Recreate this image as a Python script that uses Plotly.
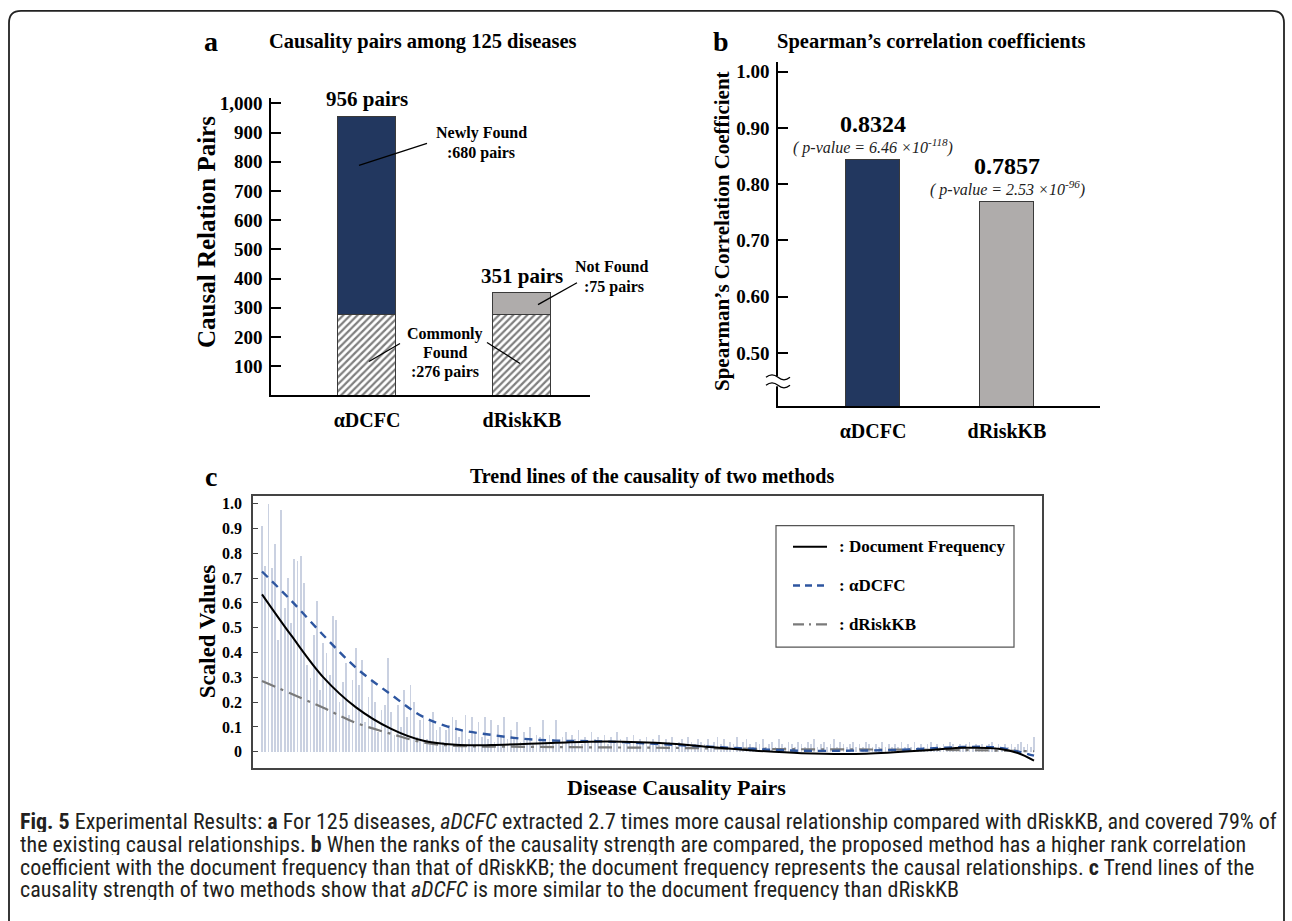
import plotly.graph_objects as go

W, H = 1292, 921
SERIF = "Liberation Serif, Times New Roman, serif"
SANS = "Liberation Sans Narrow, Roboto Condensed, DejaVu Sans Condensed, Roboto, sans-serif"

# ---------------- data ----------------
# panel a
a_categories = ["αDCFC", "dRiskKB"]
a_common = [276, 276]          # commonly found pairs
a_extra = [680, 75]            # newly found / not found
a_totals = [956, 351]
a_yticks = [100, 200, 300, 400, 500, 600, 700, 800, 900, 1000]
a_yticktext = ["100", "200", "300", "400", "500", "600", "700", "800", "900", "1,000"]

# panel b
b_categories = ["αDCFC", "dRiskKB"]
b_values = [0.843, 0.769]      # bar heights as drawn
b_labels = ["0.8324", "0.7857"]
b_pvalues = ["6.46 ×10<sup>-118</sup>", "2.53 ×10<sup>-96</sup>"]
b_yticks = [0.5, 0.6, 0.7, 0.8, 0.9, 1.0]
b_yticktext = ["0.50", "0.60", "0.70", "0.80", "0.90", "1.00"]

# panel c : scaled values of the disease causality pairs
pair_values = [
    0.91, 0.75, 1.00, 0.74, 0.84, 0.45, 0.975, 0.58, 0.70, 0.52, 0.78, 0.77, 0.79,
    0.68, 0.35, 0.30, 0.47, 0.61, 0.25, 0.44, 0.40, 0.31, 0.55, 0.53, 0.20,
    0.28, 0.36, 0.15, 0.29, 0.42, 0.27, 0.37, 0.12, 0.22, 0.29, 0.20, 0.08, 0.17,
    0.19, 0.38, 0.16, 0.07, 0.19, 0.10, 0.25, 0.14, 0.27, 0.20, 0.06, 0.13,
    0.14, 0.05, 0.125, 0.16, 0.09, 0.10, 0.04, 0.09, 0.11, 0.14, 0.13, 0.06,
    0.09, 0.15, 0.05, 0.14, 0.08, 0.12, 0.06, 0.14, 0.05, 0.13, 0.04, 0.11, 0.07, 0.14, 0.05, 0.09, 0.06,
    0.12, 0.04, 0.08, 0.05, 0.10, 0.03, 0.07, 0.06, 0.13, 0.04, 0.07, 0.05, 0.13, 0.03, 0.06, 0.08,
    0.04, 0.07, 0.05, 0.09, 0.03, 0.06, 0.04, 0.08, 0.05, 0.06, 0.04,
    0.07, 0.03, 0.06, 0.04, 0.08, 0.05, 0.03, 0.06, 0.04, 0.07, 0.03, 0.05, 0.04, 0.06, 0.03, 0.05,
    0.04, 0.07, 0.03, 0.05, 0.04, 0.06, 0.03, 0.04, 0.05, 0.03, 0.06, 0.04, 0.03, 0.05, 0.04,
    0.03, 0.05, 0.02, 0.04, 0.06, 0.03, 0.05, 0.02, 0.04, 0.03, 0.06, 0.02, 0.04, 0.05, 0.03, 0.02,
    0.04, 0.03, 0.05, 0.02, 0.03, 0.04, 0.02, 0.05, 0.03, 0.02, 0.04, 0.03, 0.02, 0.04, 0.03,
    0.02, 0.04, 0.03, 0.05, 0.02, 0.03, 0.04, 0.02, 0.03, 0.05, 0.02, 0.04, 0.03, 0.02, 0.03, 0.04,
    0.02, 0.03, 0.02, 0.04, 0.03, 0.02, 0.03, 0.02, 0.04, 0.02, 0.03, 0.02, 0.03, 0.02, 0.04,
    0.02, 0.03, 0.02, 0.04, 0.02, 0.03, 0.02, 0.03, 0.04, 0.02, 0.03, 0.02, 0.03, 0.02, 0.04, 0.03,
    0.02, 0.03, 0.02, 0.03, 0.04, 0.02, 0.03, 0.02, 0.03, 0.02, 0.03, 0.04, 0.02, 0.03, 0.02, 0.03,
    0.02, 0.03, 0.02, 0.03, 0.04, 0.02, 0.03, 0.02, 0.06,
]
doc_x = [0, 9, 19, 29, 40, 50, 60, 71, 91, 107, 127, 136, 151, 167, 187, 208, 217, 228, 234, 239]
doc_freq = [0.635, 0.47, 0.30, 0.18, 0.092, 0.044, 0.028, 0.027, 0.036, 0.041, 0.032, 0.022,
            0.006, -0.006, -0.008, 0.008, 0.016, 0.012, -0.005, -0.036]
adcfc_x = [0, 9, 19, 29, 40, 50, 60, 71, 81, 91, 107, 133, 151, 167, 198, 217, 228, 239]
adcfc = [0.727, 0.61, 0.47, 0.34, 0.23, 0.14, 0.092, 0.068, 0.052, 0.045, 0.041, 0.024, 0.012,
         0.004, 0.008, 0.019, 0.016, -0.016]
drisk_x = [0, 19, 29, 40, 50, 60, 81, 122, 167, 208, 239]
drisk = [0.285, 0.177, 0.117, 0.072, 0.037, 0.024, 0.020, 0.016, 0.010, 0.008, 0.002]
c_yticks = [0, 0.1, 0.2, 0.3, 0.4, 0.5, 0.6, 0.7, 0.8, 0.9, 1.0]
c_yticktext = ["0", "0.1", "0.2", "0.3", "0.4", "0.5", "0.6", "0.7", "0.8", "0.9", "1.0"]
legend_names = [": Document Frequency", ": αDCFC", ": dRiskKB"]

# ---------------- helpers ----------------
def fx(x):
    return x / W


def fy(y):
    return 1 - y / H


def ann(text, x, y, size, weight="bold", xanchor="center", style="normal", angle=0,
        family=SERIF, color="black"):
    return dict(text=text, x=fx(x), y=fy(y), xref="paper", yref="paper", showarrow=False,
                xanchor=xanchor, yanchor="middle", textangle=angle,
                font=dict(family=family, size=size, weight=weight, style=style, color=color))


def seg(x0, y0, x1, y1, color="black", width=1.3, dash="solid"):
    return dict(type="line", xref="paper", yref="paper", x0=fx(x0), y0=fy(y0), x1=fx(x1), y1=fy(y1),
                line=dict(color=color, width=width, dash=dash))


NAVY = "#22375f"
GREY = "#afacab"
EDGE = "#3a3a3a"

fig = go.Figure()

# ---------------- panel a ----------------
fig.add_trace(go.Bar(x=[0, 1], y=a_common, xaxis="x", yaxis="y", width=0.374,
                     marker=dict(color="white", line=dict(color=EDGE, width=1),
                                 pattern=dict(shape="/", fgcolor="black", bgcolor="white",
                                              size=5, solidity=0.45))))
fig.add_trace(go.Bar(x=[0, 1], y=a_extra, xaxis="x", yaxis="y", width=0.374,
                     marker=dict(color=[NAVY, GREY], line=dict(color=EDGE, width=1))))

# ---------------- panel b ----------------
fig.add_trace(go.Bar(x=[0, 1], y=b_values, xaxis="x2", yaxis="y2", width=0.41,
                     marker=dict(color=[NAVY, GREY], line=dict(color=EDGE, width=1))))

# ---------------- panel c ----------------
n_pairs = len(pair_values)
fig.add_trace(go.Bar(x=list(range(n_pairs)), y=pair_values, xaxis="x3", yaxis="y3", width=0.55,
                     marker=dict(color="rgba(150,163,195,0.5)", line=dict(width=0))))
fig.add_trace(go.Scatter(x=drisk_x, y=drisk, xaxis="x3", yaxis="y3", mode="lines",
                         line=dict(color="#7a7a7a", width=2.2, dash="14px,6px,3px,6px", shape="spline")))
fig.add_trace(go.Scatter(x=adcfc_x, y=adcfc, xaxis="x3", yaxis="y3", mode="lines",
                         line=dict(color="#2e56a0", width=2.4, dash="8px,6px", shape="spline")))
fig.add_trace(go.Scatter(x=doc_x, y=doc_freq, xaxis="x3", yaxis="y3", mode="lines",
                         line=dict(color="black", width=2, shape="spline")))

# axis ranges from pixel geometry
a_unit = 522 - 367
b_unit = 1007 - 873
c_last = max(n_pairs - 1, doc_x[-1])
c_unit = (1034 - 262) / c_last

axis_common = dict(showgrid=False, zeroline=False, showline=True, linecolor="black", linewidth=1.5)

fig.update_layout(
    width=W, height=H, autosize=False, showlegend=False, barmode="stack", bargap=0,
    margin=dict(l=0, r=0, t=0, b=0), paper_bgcolor="white", plot_bgcolor="white",
    xaxis=dict(axis_common, domain=[fx(271), fx(590)], anchor="y",
               range=[-(367 - 271) / a_unit, (590 - 367) / a_unit],
               tickvals=[0, 1], ticktext=a_categories, ticks="", ticklabelstandoff=6,
               tickfont=dict(family=SERIF, size=20, weight="bold", color="black")),
    yaxis=dict(axis_common, domain=[fy(393), fy(94)], anchor="x", range=[0, 1020],
               tickvals=a_yticks, ticktext=a_yticktext, ticks="inside", ticklen=10, tickwidth=1.5,
               tickcolor="black", ticklabelstandoff=3,
               tickfont=dict(family=SERIF, size=19, weight="bold", color="black")),
    xaxis2=dict(axis_common, domain=[fx(778), fx(1100)], anchor="y2",
                range=[-(873 - 778) / b_unit, (1100 - 873) / b_unit],
                tickvals=[0, 1], ticktext=b_categories, ticks="", ticklabelstandoff=6,
                tickfont=dict(family=SERIF, size=20, weight="bold", color="black")),
    yaxis2=dict(axis_common, domain=[fy(404), fy(58)], anchor="x2",
                range=[1.0 - (404 - 68) / 565, 1.0 + (68 - 58) / 565],
                tickvals=b_yticks, ticktext=b_yticktext, ticks="inside", ticklen=10, tickwidth=1.5,
                tickcolor="black", ticklabelstandoff=3,
                tickfont=dict(family=SERIF, size=19, weight="bold", color="black")),
    xaxis3=dict(axis_common, domain=[fx(253), fx(1042)], anchor="y3", mirror=True,
                linecolor="#444", range=[-(262 - 253) / c_unit, c_last + (1042 - 1034) / c_unit],
                showticklabels=False, ticks=""),
    yaxis3=dict(axis_common, domain=[fy(767), fy(494)], anchor="x3", mirror=True, linecolor="#444",
                range=[-(767 - 751) / 249, 1 + (751 - 494 - 249) / 249],
                tickvals=c_yticks, ticktext=c_yticktext, ticks="inside", ticklen=5, tickwidth=1,
                tickcolor="#444", ticklabelstandoff=6,
                tickfont=dict(family=SERIF, size=16, weight="bold", color="black")),
)

annotations = []
shapes = []

# frame
shapes.append(dict(type="path", xref="paper", yref="paper",
                   path=(f"M {fx(9)},{fy(940)} L {fx(9)},{fy(19)} Q {fx(9)},{fy(7)} {fx(21)},{fy(7)} "
                         f"L {fx(1272)},{fy(7)} Q {fx(1284)},{fy(7)} {fx(1284)},{fy(19)} L {fx(1284)},{fy(940)}"),
                   line=dict(color="#222", width=1.8)))

# panel a texts
annotations.append(ann("a", 211, 38, 28))
annotations.append(ann("Causality pairs among 125 diseases", 423, 38, 20.5))
annotations.append(ann("Causal Relation Pairs", 206, 229, 25, angle=-90))
for i, tot in enumerate(a_totals):
    annotations.append(dict(text=f"{tot} pairs", x=i, y=tot, xref="x", yref="y", showarrow=False,
                            xanchor="center", yanchor="bottom", yshift=3,
                            font=dict(family=SERIF, size=21, weight="bold", color="black")))
annotations.append(ann("Newly Found", 481, 130, 16))
annotations.append(ann(":680 pairs", 481, 150, 16))
annotations.append(ann("Not Found", 611, 264, 16))
annotations.append(ann(":75 pairs", 614, 284, 16))
annotations.append(ann("Commonly", 445, 331, 16))
annotations.append(ann("Found", 445, 350, 16))
annotations.append(ann(":276 pairs", 445, 370, 16))
shapes += [seg(359, 162, 427, 140), seg(538, 302, 577, 280),
           seg(369, 359, 400, 341), seg(487, 340, 520, 361)]

# panel b texts
annotations.append(ann("b", 721, 38, 28))
annotations.append(ann("Spearman’s correlation coefficients", 931, 38, 20.5))
annotations.append(ann("Spearman’s Correlation Coefficient", 722, 228, 21, angle=-90))
for i, (lab, pv, val) in enumerate(zip(b_labels, b_pvalues, b_values)):
    annotations.append(dict(text=f"( p-value = {pv})", x=i, y=val, xref="x2", yref="y2",
                            showarrow=False, xanchor="center", yanchor="bottom", yshift=1,
                            font=dict(family=SERIF, size=16, style="italic", color="#222")))
    annotations.append(dict(text=lab, x=i, y=val, xref="x2", yref="y2", showarrow=False,
                            xanchor="center", yanchor="bottom", yshift=21,
                            font=dict(family=SERIF, size=24, weight="bold", color="black")))
# axis break
shapes.append(dict(type="rect", xref="paper", yref="paper", x0=fx(770), x1=fx(786), y0=fy(384),
                   y1=fy(374), fillcolor="white", line=dict(width=0)))
for yb in (375, 383):
    shapes.append(dict(type="path", xref="paper", yref="paper",
                       path=(f"M {fx(766)},{fy(yb)} Q {fx(772)},{fy(yb - 5)} {fx(778)},{fy(yb)} "
                             f"T {fx(790)},{fy(yb)}"),
                       line=dict(color="black", width=1.3)))

# panel c texts
annotations.append(ann("c", 211, 475, 28))
annotations.append(ann("Trend lines of the causality of two methods", 652, 475, 20))
annotations.append(ann("Scaled Values", 207, 630, 23, angle=-90))
annotations.append(ann("Disease Causality Pairs", 676, 787, 22))
# legend box
shapes.append(dict(type="rect", xref="paper", yref="paper", x0=fx(776), x1=fx(1014), y0=fy(646),
                   y1=fy(524), line=dict(color="#555", width=1.2), fillcolor="white"))
leg_styles = [dict(color="black", width=2, dash="solid"),
              dict(color="#2e56a0", width=2.4, dash="7px,5px"),
              dict(color="#7a7a7a", width=2.2, dash="11px,5px,2px,5px")]
for k, (name, st) in enumerate(zip(legend_names, leg_styles)):
    yy = 545 + 39 * k
    shapes.append(seg(793, yy, 827, yy, color=st["color"], width=st["width"], dash=st["dash"]))
    annotations.append(ann(name, 837, yy, 17, xanchor="left"))

# caption
caption = [
    "<b>Fig. 5</b> Experimental Results: <b>a</b> For 125 diseases, <i>aDCFC</i> extracted 2.7 times more "
    "causal relationship compared with dRiskKB, and covered 79% of",
    "the existing causal relationships. <b>b</b> When the ranks of the causality strength are compared, "
    "the proposed method has a higher rank correlation",
    "coefficient with the document frequency than that of dRiskKB; the document frequency represents "
    "the causal relationships. <b>c</b> Trend lines of the",
    "causality strength of two methods show that <i>aDCFC</i> is more similar to the document frequency "
    "than dRiskKB",
]
for k, line in enumerate(caption):
    cap = ann(line, 19, 821 + 22.7 * k, 22, weight="normal", xanchor="left",
              family=SANS, color="#231f20")
    cap.update(height=22, borderpad=0, valign="middle")
    annotations.append(cap)

fig.update_layout(annotations=annotations, shapes=shapes)
fig.write_html("out.html", config={"displayModeBar": False},
               post_script="document.body.style.margin='0px';document.body.style.overflow='hidden';")
